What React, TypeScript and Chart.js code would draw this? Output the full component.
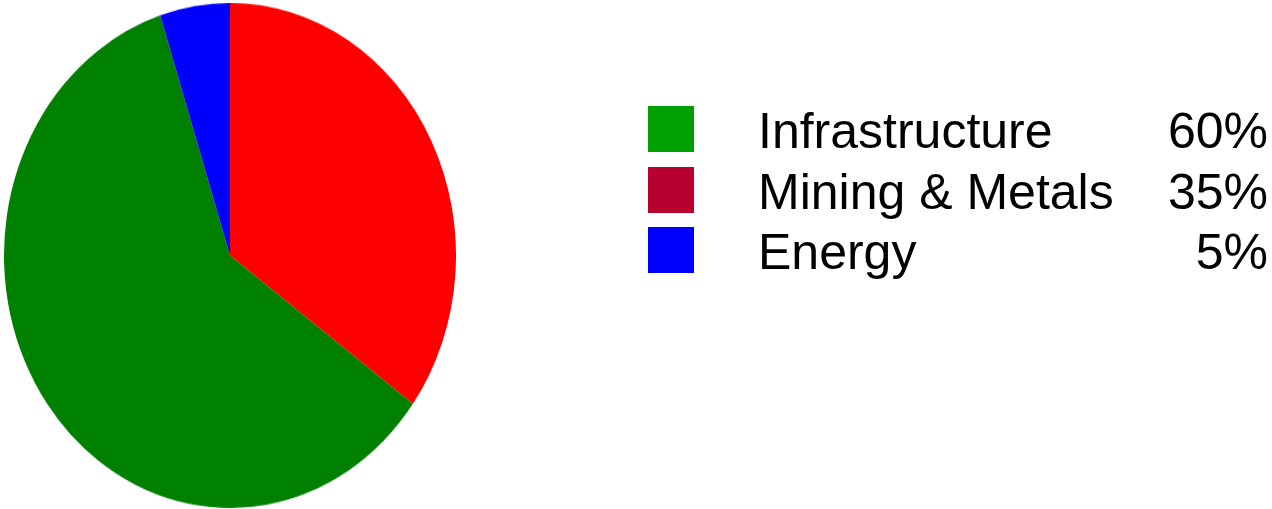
import React, { useEffect, useRef } from "react";
import { Chart, registerables } from "chart.js";

Chart.register(...registerables);

// Legend order
const categories = ["Infrastructure", "Mining & Metals", "Energy"];
const values = [60, 35, 5];
const valueLabels = ["60%", "35%", "5%"];
const sliceColors = ["#008000", "#ff0000", "#0000ff"];
const legendColors = ["#00a000", "#b8002e", "#0000ff"];
// Clockwise drawing order starting from 12 o'clock
const pieOrder = [1, 0, 2];

const FONT = '"Liberation Sans", Arial, sans-serif';

export default function App() {
  const canvasRef = useRef<HTMLCanvasElement | null>(null);

  useEffect(() => {
    if (!canvasRef.current) return;
    const chart = new Chart(canvasRef.current, {
      type: "pie",
      data: {
        labels: pieOrder.map((i) => categories[i]),
        datasets: [
          {
            data: pieOrder.map((i) => values[i]),
            backgroundColor: pieOrder.map((i) => sliceColors[i]),
            borderWidth: 0,
            hoverOffset: 0,
          },
        ],
      },
      options: {
        responsive: false,
        animation: false,
        devicePixelRatio: 1,
        layout: { padding: 0 },
        plugins: {
          legend: { display: false },
          tooltip: { enabled: false },
        },
        events: [],
      },
    });
    return () => chart.destroy();
  }, []);

  const boxTops = [106, 166.5, 226.5];

  return (
    <div
      style={{
        position: "absolute",
        left: 0,
        top: 0,
        width: 1272,
        height: 509,
        background: "#ffffff",
        overflow: "hidden",
      }}
    >
      <canvas
        ref={canvasRef}
        width={452}
        height={452}
        style={{
          position: "absolute",
          left: 4,
          top: 3,
          width: 452,
          height: 452,
          transform: `scaleY(${505 / 452})`,
          transformOrigin: "0 0",
        }}
      />
      {categories.map((c, i) => (
        <React.Fragment key={c}>
          <div
            style={{
              position: "absolute",
              left: 648,
              top: boxTops[i],
              width: 46,
              height: 46,
              background: legendColors[i],
            }}
          />
          <div
            style={{
              position: "absolute",
              left: 758,
              top: boxTops[i],
              fontFamily: FONT,
              fontSize: 50,
              lineHeight: "50px",
              color: "#000",
              whiteSpace: "nowrap",
            }}
          >
            {c}
          </div>
          <div
            style={{
              position: "absolute",
              right: 1272 - 1268,
              top: boxTops[i],
              fontFamily: FONT,
              fontSize: 50,
              lineHeight: "50px",
              color: "#000",
              whiteSpace: "nowrap",
              textAlign: "right",
            }}
          >
            {valueLabels[i]}
          </div>
        </React.Fragment>
      ))}
    </div>
  );
}
